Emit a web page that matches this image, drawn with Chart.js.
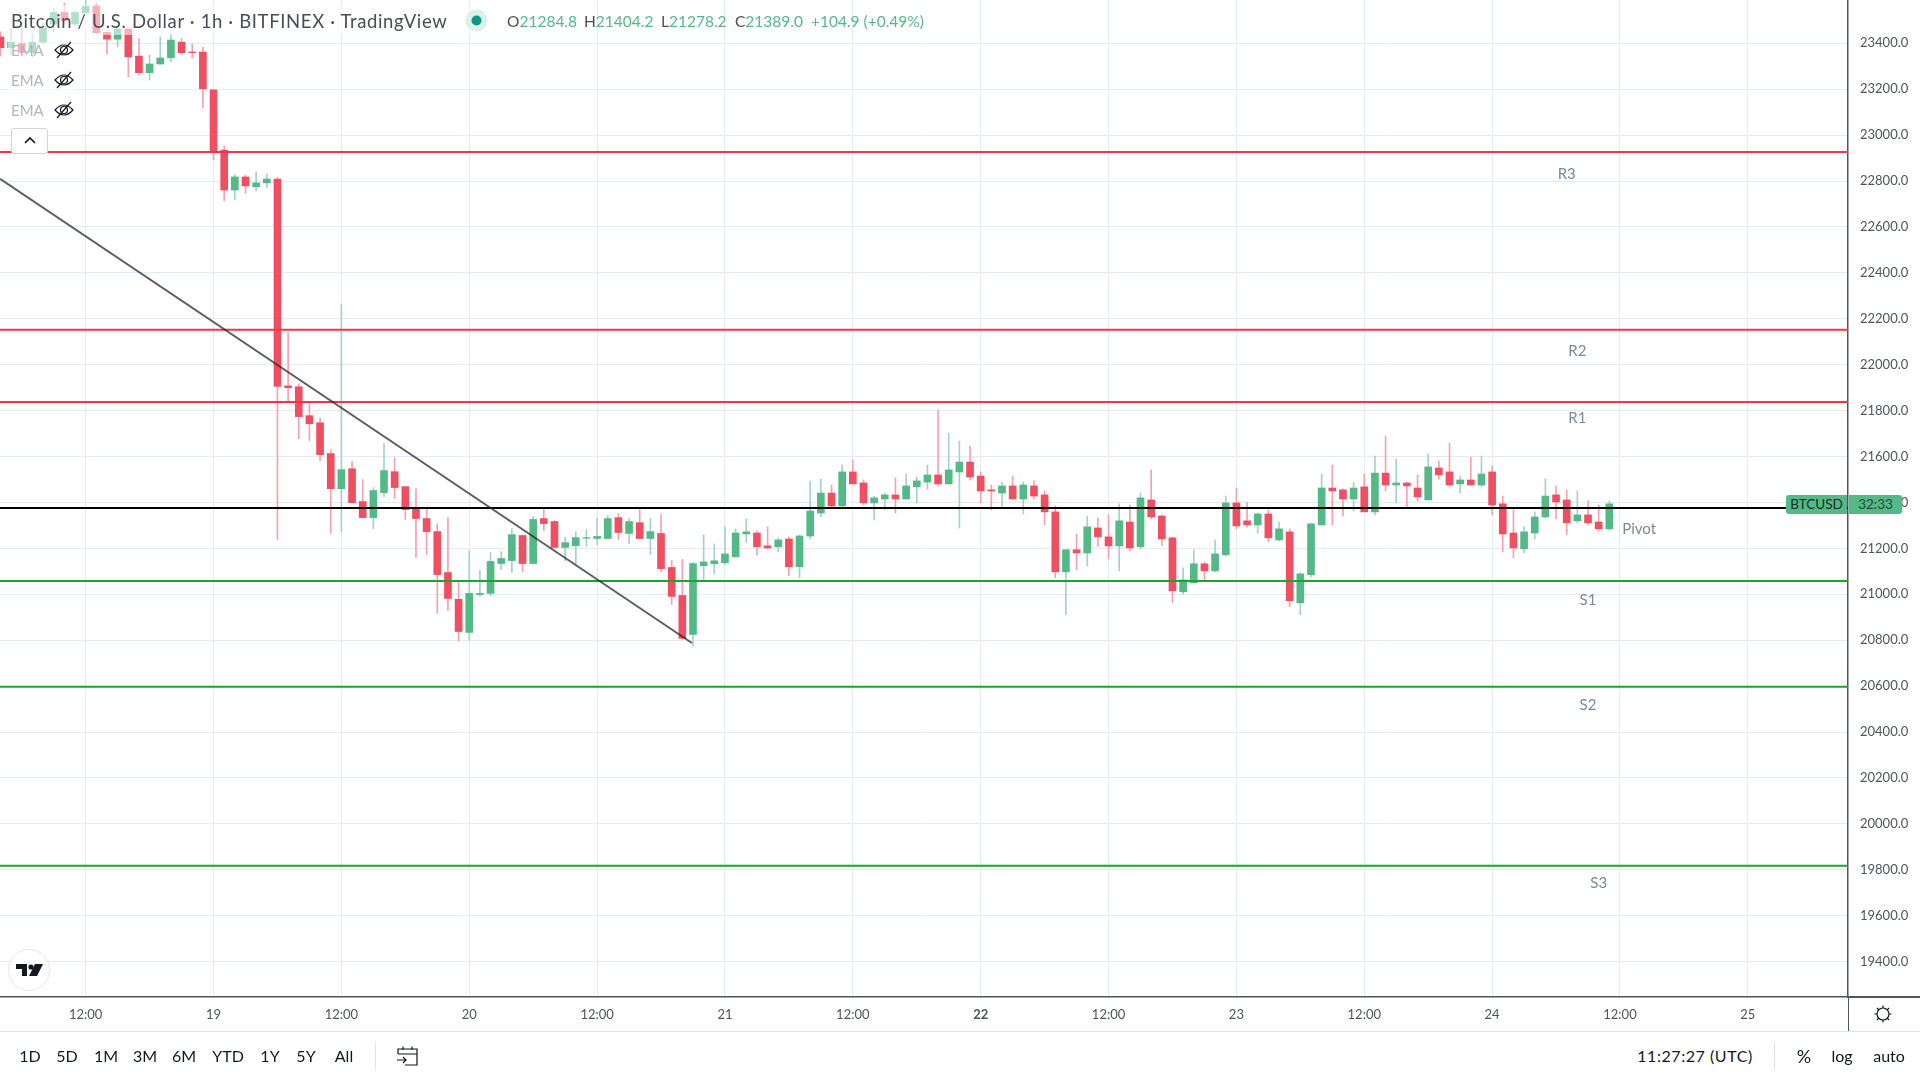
<!DOCTYPE html>
<html>
<head>
<meta charset="utf-8">
<title>BTCUSD 1h</title>
<script src="https://cdn.jsdelivr.net/npm/chart.js@4"></script>
<style>
  html, body { margin: 0; padding: 0; background: #fff; width: 1920px; height: 1080px; overflow: hidden; }
  body { font-family: Lato, sans-serif; color: #131722; position: relative; }
  canvas { position: absolute; left: 0; top: 0; }
  .abs { position: absolute; white-space: nowrap; }
  .rule { position: absolute; background: #50535e; }
  .sep { position: absolute; background: #e0e3eb; }
  .fade { position: absolute; background: rgba(255,255,255,0.55); }
  .ema { color: #b2b5be; font-size: 15px; left: 11px; line-height: 18px; }
  .tb { top: 1045px; font-size: 16px; line-height: 22px; transform: translateX(-50%); }
  .ohlc { top: 12px; font-size: 15.5px; line-height: 18px; color: #53b987; }
  .ohlc b { font-weight: normal; color: #4a4d57; }
</style>
</head>
<body>
<canvas id="chart" width="1920" height="1031"></canvas>

<div class="fade" style="left:8px;top:5px;width:470px;height:30px"></div>
<div class="fade" style="left:8px;top:35px;width:70px;height:90px"></div>
<div class="abs" style="left:11px;top:10px;font-size:18.5px;letter-spacing:0.64px;line-height:22px;color:#4a4d57">Bitcoin / U.S. Dollar · 1h · BITFINEX · TradingView</div>
<svg class="abs" style="left:465px;top:9px" width="24" height="24"><circle cx="11.5" cy="11.5" r="11" fill="#dcf1ec"/><circle cx="11.5" cy="11.5" r="5" fill="#089981"/></svg>
<div class="abs ohlc" style="left:507px"><b>O</b>21284.8</div>
<div class="abs ohlc" style="left:584px"><b>H</b>21404.2</div>
<div class="abs ohlc" style="left:661px"><b>L</b>21278.2</div>
<div class="abs ohlc" style="left:735px"><b>C</b>21389.0</div>
<div class="abs ohlc" style="left:811px">+104.9 (+0.49%)</div>

<div class="abs ema" style="top:41px">EMA</div>
<div class="abs ema" style="top:71px">EMA</div>
<div class="abs ema" style="top:101px">EMA</div>
<svg class="abs" style="left:53px;top:40px" width="22" height="20" fill="none" stroke="#131722" stroke-width="1.2"><path d="M2 10 Q11 0 20 10 Q11 20 2 10Z"/><circle cx="11" cy="10" r="3.5"/><path d="M4 18 L18 2"/></svg>
<svg class="abs" style="left:53px;top:70px" width="22" height="20" fill="none" stroke="#131722" stroke-width="1.2"><path d="M2 10 Q11 0 20 10 Q11 20 2 10Z"/><circle cx="11" cy="10" r="3.5"/><path d="M4 18 L18 2"/></svg>
<svg class="abs" style="left:53px;top:100px" width="22" height="20" fill="none" stroke="#131722" stroke-width="1.2"><path d="M2 10 Q11 0 20 10 Q11 20 2 10Z"/><circle cx="11" cy="10" r="3.5"/><path d="M4 18 L18 2"/></svg>
<div class="abs" style="left:11px;top:128px;width:35px;height:24px;border:1px solid #d1d4dc;border-radius:3px;background:#fff"></div>
<svg class="abs" style="left:23px;top:136px" width="14" height="10" fill="none" stroke="#131722" stroke-width="1.6"><path d="M2 7 L7 2 L12 7"/></svg>

<svg class="abs" style="left:8px;top:949px" width="42" height="42"><circle cx="21" cy="21" r="20.5" fill="#fff" stroke="#e6e6e8"/><path d="M8 15 H19 V27 H14 V20 H8Z M27 15 H35 L29 27 H21 Z" fill="#131722"/><circle cx="23" cy="18" r="2.6" fill="#131722"/></svg>

<div class="abs" style="left:1786px;top:495px;width:61px;height:19px;background:#53b987;border-radius:3px 0 0 3px;font-size:13.5px;line-height:19px;text-align:center;color:#1e2a26">BTCUSD</div>
<div class="abs" style="left:1849px;top:495px;width:53px;height:19px;background:#53b987;border-radius:0 3px 3px 0;font-size:13.5px;line-height:19px;text-align:center;color:#2d4a3e">32:33</div>

<div class="rule" style="left:1848px;top:996px;width:72px;height:1.5px"></div>
<div class="rule" style="left:1847.5px;top:997px;width:1.5px;height:34px"></div>
<svg class="abs" style="left:1873px;top:1004px" width="20" height="20" fill="none" stroke="#131722" stroke-width="1.2"><circle cx="10" cy="10" r="6"/><path d="M10 1.5 V4 M10 16 V18.5 M1.5 10 H4 M16 10 H18.5 M4 4 L5.8 5.8 M14.2 14.2 L16 16 M16 4 L14.2 5.8 M5.8 14.2 L4 16"/></svg>
<div class="sep" style="left:0;top:1031px;width:1920px;height:1px"></div>

<div class="abs tb" style="left:30px">1D</div>
<div class="abs tb" style="left:67px">5D</div>
<div class="abs tb" style="left:106px">1M</div>
<div class="abs tb" style="left:145px">3M</div>
<div class="abs tb" style="left:184px">6M</div>
<div class="abs tb" style="left:228px">YTD</div>
<div class="abs tb" style="left:270px">1Y</div>
<div class="abs tb" style="left:306px">5Y</div>
<div class="abs tb" style="left:344px">All</div>
<div class="sep" style="left:375px;top:1042px;width:1px;height:28px"></div>
<svg class="abs" style="left:395px;top:1045px" width="24" height="22" fill="none" stroke="#131722" stroke-width="1.2"><path d="M3 9 V4 H22 V20 H10 M3 9 H22 M8 1.5 V5 M17 1.5 V5 M2 15 H11 M8 12 L11 15 L8 18"/></svg>
<div class="abs tb" style="left:1695px;letter-spacing:0.55px">11:27:27 (UTC)</div>
<div class="sep" style="left:1774px;top:1042px;width:1px;height:28px"></div>
<div class="abs tb" style="left:1804px;font-size:18px">%</div>
<div class="abs tb" style="left:1842px">log</div>
<div class="abs tb" style="left:1889px">auto</div>

<script>
// hourly candles, index 0 = 19th 00:00 UTC, first candle is index -20
const firstHour = -20;
const opens = [
  23428,23381,23399,23359,23405,23484,23534,23484,23533,23562,
  23447,23418,23462,23344,23272,23310,23337,23405,23362,23362,
  23197,22935,22761,22818,22775,22792,22809,21908,21904,21778,
  21747,21613,21460,21547,21404,21334,21443,21534,21469,21378,
  21330,21273,21095,20978,20834,20999,21004,21134,21147,21256,
  21134,21330,21317,21204,21212,21244,21243,21243,21334,21265,
  21312,21243,21265,21117,20995,20825,21124,21133,21137,21163,
  21263,21267,21211,21207,21241,21120,21254,21354,21441,21385,
  21533,21485,21398,21415,21433,21415,21468,21489,21520,21481,
  21533,21576,21515,21455,21441,21472,21415,21472,21433,21359,
  21098,21194,21180,21289,21250,21211,21315,21207,21411,21341,
  21246,21011,21050,21133,21102,21172,21398,21320,21302,21350,
  21237,21272,20963,21085,21302,21463,21455,21415,21468,21359,
  21528,21476,21485,21463,21411,21550,21533,21481,21498,21476,
  21533,21394,21267,21198,21267,21337,21433,21411,21320,21346,
  21315,21285
];
const closes = [
  23381,23405,23359,23404,23468,23534,23498,23534,23562,23446,
  23418,23462,23341,23272,23310,23336,23414,23359,23359,23202,
  22927,22761,22818,22779,22792,22809,21905,21900,21774,21743,
  21608,21460,21543,21399,21334,21452,21539,21465,21369,21330,
  21273,21086,20982,20838,21004,21004,21143,21156,21260,21134,
  21326,21308,21204,21225,21247,21247,21252,21330,21269,21317,
  21243,21273,21112,20991,20808,21134,21141,21146,21176,21267,
  21272,21207,21202,21237,21120,21254,21363,21441,21385,21533,
  21481,21398,21420,21433,21415,21472,21494,21520,21481,21542,
  21576,21511,21450,21450,21472,21415,21476,21428,21359,21098,
  21194,21180,21294,21250,21211,21320,21202,21420,21337,21241,
  21015,21063,21133,21102,21176,21398,21298,21302,21350,21246,
  21285,20972,21089,21307,21463,21450,21415,21463,21359,21528,
  21476,21485,21472,21424,21555,21520,21476,21498,21476,21524,
  21389,21263,21202,21272,21337,21428,21402,21311,21346,21311,
  21285,21394
];
const highs = [
  23450,23465,23460,23443,23486,23552,23576,23544,23588,23571,
  23450,23465,23465,23421,23349,23428,23443,23421,23397,23382,
  23197,22953,22827,22827,22840,22831,22815,22140,21917,21830,
  21769,21630,22265,21578,21500,21465,21656,21595,21469,21460,
  21373,21308,21334,21051,21191,21104,21182,21186,21286,21260,
  21339,21373,21321,21247,21273,21282,21330,21343,21352,21330,
  21369,21330,21347,21147,21152,21138,21259,21220,21294,21285,
  21328,21276,21294,21246,21250,21259,21494,21502,21476,21563,
  21585,21498,21428,21441,21507,21524,21511,21563,21803,21702,
  21668,21646,21533,21476,21489,21515,21489,21494,21450,21385,
  21194,21263,21341,21333,21346,21394,21389,21441,21541,21346,
  21250,21115,21194,21141,21237,21428,21463,21402,21354,21368,
  21315,21285,21093,21307,21524,21563,21459,21489,21524,21602,
  21689,21589,21489,21520,21611,21581,21659,21515,21598,21602,
  21559,21428,21368,21294,21359,21502,21472,21455,21450,21407,
  21389,21407
];
const lows = [
  23344,23349,23349,23339,23399,23450,23479,23475,23530,23443,
  23353,23385,23255,23262,23240,23308,23320,23353,23337,23120,
  22892,22714,22718,22747,22757,22770,21239,21842,21678,21669,
  21582,21265,21273,21399,21334,21286,21425,21417,21326,21160,
  21173,20917,20930,20795,20799,20991,20995,21108,21095,21099,
  21134,21278,21204,21147,21130,21208,21217,21243,21239,21221,
  21243,21173,21099,20956,20803,20773,21063,21089,21128,21163,
  21224,21172,21198,21185,21080,21072,21241,21337,21381,21381,
  21481,21389,21324,21368,21354,21415,21398,21459,21472,21481,
  21289,21498,21398,21368,21376,21415,21350,21415,21302,21072,
  20911,21106,21124,21207,21154,21102,21189,21198,21328,21211,
  20963,21002,21050,21063,21098,21167,21285,21294,21267,21228,
  21233,20946,20911,21076,21302,21302,21341,21363,21359,21346,
  21450,21398,21381,21407,21411,21502,21472,21441,21476,21468,
  21346,21185,21159,21180,21241,21333,21328,21259,21311,21302,
  21276,21280
];

// pivot levels and the drawn trend line
const levelNames = ['R3', 'R2', 'R1', 'Pivot', 'S1', 'S2', 'S3'];
const levelPrices = [22926, 22152, 21838, 21376, 21058, 20597, 19818];
const levelColors = ['#f23645', '#f23645', '#f23645', '#000000', '#16a82a', '#16a82a', '#16a82a'];
const levelTextHours = [127, 128, 128, 133.8, 129, 129, 130];
const levelTextPrices = [22830, 22061, 21768, 21282, 20975, 20518, 19740];
const trendHours = [-20.04, 44.9];
const trendPrices = [22810, 20788];

const xTickHours = [-12, 0, 12, 24, 36, 48, 60, 72, 84, 96, 108, 120, 132, 144];
const xTickLabels = ['12:00', '19', '12:00', '20', '12:00', '21', '12:00', '22', '12:00', '23', '12:00', '24', '12:00', '25'];

const xMin = -20.04, xMax = 153.4;
const yMin = 19246, yMax = 23588.6;
const UP = '#53b987', DOWN = '#ef5061', UP_WICK = '#a6cfcf', DOWN_WICK = '#f7a1ae';
const GRID = '#e2ecf2', AXIS_TEXT = '#50535e';
const FONT = 'Lato, sans-serif';

const isUp = i => closes[i] >= opens[i];
const wickData = highs.map((h, i) => ({ x: firstHour + i, y: [lows[i], h] }));
const bodyData = opens.map((o, i) => ({ x: firstHour + i, y: [o, closes[i]] }));

const datasets = [];
datasets.push({
  type: 'bar', data: wickData, grouped: false, barThickness: 1, order: 20,
  backgroundColor: ctx => isUp(ctx.dataIndex) ? UP_WICK : DOWN_WICK
});
datasets.push({
  type: 'bar', data: bodyData, grouped: false, barThickness: 7, order: 10,
  backgroundColor: ctx => isUp(ctx.dataIndex) ? UP : DOWN
});
levelPrices.forEach((p, i) => {
  datasets.push({
    type: 'line', data: [{ x: xMin, y: p }, { x: xMax, y: p }],
    borderColor: levelColors[i], borderWidth: 2, pointRadius: 0, order: 5
  });
});
datasets.push({
  type: 'line', data: trendHours.map((h, i) => ({ x: h, y: trendPrices[i] })),
  borderColor: 'rgba(40,40,40,0.75)', borderWidth: 2, pointRadius: 0, order: 1
});

// R3..S3 captions sit in the chart, placed through the scales
const levelTextPlugin = {
  id: 'levelText',
  afterDatasetsDraw(chart) {
    const { ctx, scales } = chart;
    ctx.save();
    ctx.font = '15px ' + FONT;
    ctx.fillStyle = '#78899b';
    ctx.textAlign = 'center';
    ctx.textBaseline = 'middle';
    levelNames.forEach((name, i) => {
      ctx.fillText(name, scales.x.getPixelForValue(levelTextHours[i]), scales.y.getPixelForValue(levelTextPrices[i]));
    });
    ctx.restore();
  }
};

function noMargins(s) {
  s.paddingTop = 0;
  s.paddingBottom = 0;
  s.paddingLeft = 0;
  s.paddingRight = 0;
}

new Chart(document.getElementById('chart').getContext('2d'), {
  data: { datasets },
  plugins: [levelTextPlugin],
  options: {
    responsive: false,
    devicePixelRatio: 1,
    animation: false,
    layout: { padding: 0 },
    plugins: { legend: { display: false }, tooltip: { enabled: false } },
    scales: {
      x: {
        type: 'linear', min: xMin, max: xMax, offset: false,
        afterFit: s => { s.height = 34; noMargins(s); },
        afterBuildTicks: s => { s.ticks = xTickHours.map(v => ({ value: v })); },
        grid: { color: GRID, drawTicks: false, offset: false },
        border: { color: AXIS_TEXT, width: 1.5 },
        ticks: {
          autoSkip: false, maxRotation: 0, padding: 10, color: AXIS_TEXT,
          font: ctx => ({ family: FONT, size: 13, weight: ctx.tick && ctx.tick.value === 72 ? 'bold' : 'normal' }),
          callback: v => xTickLabels[xTickHours.indexOf(v)]
        }
      },
      y: {
        type: 'linear', position: 'right', min: yMin, max: yMax,
        afterFit: s => { s.width = 72; noMargins(s); },
        grid: { color: GRID, drawTicks: false },
        border: { color: AXIS_TEXT, width: 1.5 },
        ticks: {
          stepSize: 200, includeBounds: false, padding: 12, color: AXIS_TEXT,
          font: { family: FONT, size: 13 },
          callback: v => v.toFixed(1)
        }
      }
    }
  }
});
</script>
</body>
</html>
